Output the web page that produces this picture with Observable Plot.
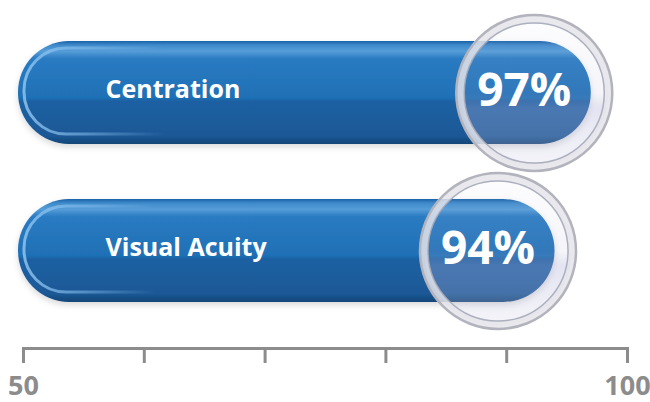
<!DOCTYPE html>
<html><head><meta charset="utf-8">
<script src="https://cdn.jsdelivr.net/npm/d3@7"></script>
<script src="https://cdn.jsdelivr.net/npm/@observablehq/plot@0.6"></script>
<style>body{margin:0;background:#fff}</style>
</head><body><div id="chart"></div>
<script>
const categories = ["Centration", "Visual Acuity"];
const values = [97, 94];
const valueLabels = ["97%", "94%"];
const axisTicks = [50, 60, 70, 80, 90, 100];
const tickLabels = ["50", "", "", "", "", "100"];

const data = categories.map((c, i) => ({category: c, value: values[i], label: valueLabels[i]}));
const tickText = new Map(axisTicks.map((t, i) => [t, tickLabels[i]]));

const defs = () => {
  const d = d3.create("svg:defs");
  const g = d.append("linearGradient").attr("id", "barGrad").attr("x1", 0).attr("y1", 0).attr("x2", 0).attr("y2", 1);
  [[0, "#1a62a8"], [0.04, "#3f8acb"], [0.10, "#559dd8"], [0.17, "#2a7bc2"], [0.55, "#1f70b5"],
   [0.585, "#1d61a3"], [0.92, "#1b5896"], [1, "#134677"]]
    .forEach(([o, c]) => g.append("stop").attr("offset", o).attr("stop-color", c));
  const cap = d.append("linearGradient").attr("id", "capGrad").attr("x1", 0).attr("y1", 0).attr("x2", 1).attr("y2", 0);
  [[0, "rgba(140,195,240,0.85)"], [0.1, "rgba(140,195,240,0.55)"], [0.25, "rgba(140,195,240,0)"], [1, "rgba(140,195,240,0)"]]
    .forEach(([o, c]) => cap.append("stop").attr("offset", o).attr("stop-color", c));
  const lens = d.append("linearGradient").attr("id", "lensGrad").attr("x1", 0).attr("y1", 0).attr("x2", 0).attr("y2", 1);
  [[0, "rgba(200,205,225,0.05)"], [0.5, "rgba(170,170,210,0.12)"], [0.6, "rgba(170,170,215,0.32)"], [1, "rgba(200,200,225,0.2)"]]
    .forEach(([o, c]) => lens.append("stop").attr("offset", o).attr("stop-color", c));
  const f = d.append("filter").attr("id", "shadow").attr("x", "-10%").attr("y", "-20%").attr("width", "120%").attr("height", "150%");
  f.append("feDropShadow").attr("dx", 0).attr("dy", 3).attr("stdDeviation", 3).attr("flood-color", "#000").attr("flood-opacity", 0.15);
  return d.node();
};

const chart = Plot.plot({
  width: 650,
  height: 402,
  marginLeft: 23,
  marginRight: 23,
  marginTop: 0,
  marginBottom: 54,
  style: {fontFamily: "Open Sans", background: "#fff"},
  x: {domain: [50, 100]},
  y: {domain: categories, range: [40, 302], paddingInner: 0.35, paddingOuter: 0, axis: null},
  marks: [
    defs,
    Plot.barX(data, {y: "category", x1: 50, x2: "value", rx: 51, insetLeft: -5, fill: "url(#barGrad)", className: "bar"}),
    Plot.barX(data, {y: "category", x1: 50, x2: "value", rx: 42, insetLeft: 1, insetTop: 7, insetBottom: 10, insetRight: 6,
      fill: "none", stroke: "url(#capGrad)", strokeWidth: 3}),
    Plot.dot(data, {x: "value", y: "category", dx: -57, r: 74, fill: "url(#lensGrad)", stroke: "#e4e4ea", strokeWidth: 8, strokeOpacity: 0.85}),
    Plot.dot(data, {x: "value", y: "category", dx: -57, r: 78, fill: "none", stroke: "#b2b3bc", strokeWidth: 2.5}),
    Plot.dot(data, {x: "value", y: "category", dx: -57, r: 70, fill: "none", stroke: "#a4a8b8", strokeWidth: 1.5, strokeOpacity: 0.9}),
    Plot.text(data, {x: 50, y: "category", text: "category", textAnchor: "start", dx: 82, dy: -3, fill: "white", fontSize: 25, fontWeight: 700}),
    Plot.text(data, {x: "value", y: "category", text: "label", dx: -67, dy: -2, fill: "white", fontSize: 46, fontWeight: 700}),
    Plot.frame({anchor: "bottom", stroke: "#8c8c8c", strokeWidth: 3}),
    Plot.axisX({ticks: axisTicks, tickSize: 15, tickPadding: 12, tickFormat: d => tickText.get(d),
      fontSize: 27, fontWeight: 700, fill: "#8c8c8c", stroke: "#8c8c8c", strokeWidth: 3, label: null})
  ]
});
d3.select(chart).selectAll(".bar rect").attr("filter", "url(#shadow)");
document.getElementById("chart").appendChild(chart);
</script>
</body></html>
